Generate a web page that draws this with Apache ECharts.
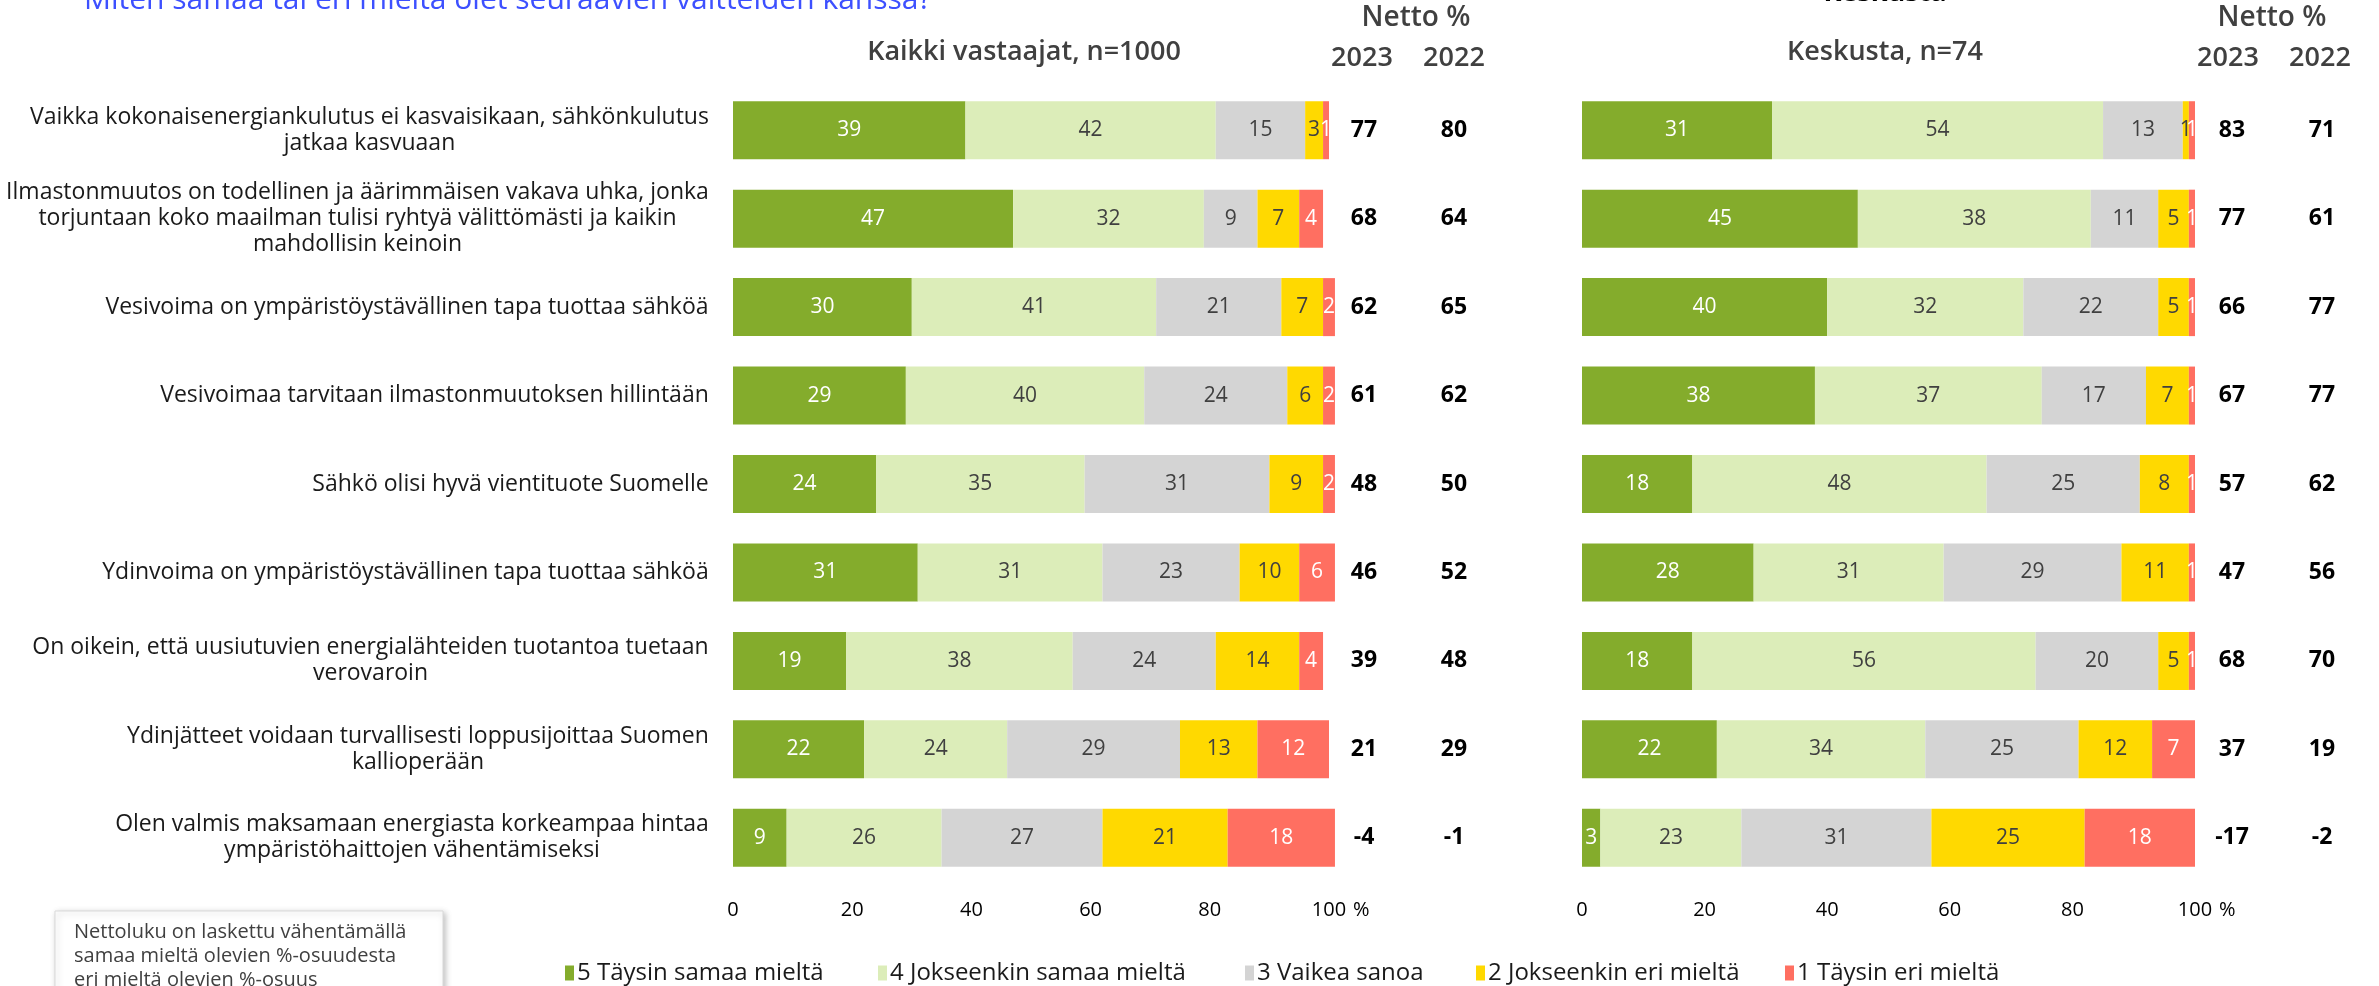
<!DOCTYPE html>
<html>
<head>
<meta charset="utf-8">
<script src="https://cdn.jsdelivr.net/npm/echarts@6/dist/echarts.min.js"></script>
<style>
  html, body { margin: 0; padding: 0; background: #fff; }
  #chart { width: 2379px; height: 986px; }
</style>
</head>
<body>
<div id="chart"></div>
<script>
// Statements (top to bottom)
const categories = [
  'Vaikka kokonaisenergiankulutus ei kasvaisikaan, sähkönkulutus\njatkaa kasvuaan',
  'Ilmastonmuutos on todellinen ja äärimmäisen vakava uhka, jonka\ntorjuntaan koko maailman tulisi ryhtyä välittömästi ja kaikin\nmahdollisin keinoin',
  'Vesivoima on ympäristöystävällinen tapa tuottaa sähköä',
  'Vesivoimaa tarvitaan ilmastonmuutoksen hillintään',
  'Sähkö olisi hyvä vientituote Suomelle',
  'Ydinvoima on ympäristöystävällinen tapa tuottaa sähköä',
  'On oikein, että uusiutuvien energialähteiden tuotantoa tuetaan\nverovaroin',
  'Ydinjätteet voidaan turvallisesti loppusijoittaa Suomen\nkallioperään',
  'Olen valmis maksamaan energiasta korkeampaa hintaa\nympäristöhaittojen vähentämiseksi'
];

// Answer scale
const answerNames = [
  '5 Täysin samaa mieltä',
  '4 Jokseenkin samaa mieltä',
  '3 Vaikea sanoa',
  '2 Jokseenkin eri mieltä',
  '1 Täysin eri mieltä'
];

// All respondents, n=1000 (%)
const allAgree5    = [39, 47, 30, 29, 24, 31, 19, 22, 9];
const allAgree4    = [42, 32, 41, 40, 35, 31, 38, 24, 26];
const allNeutral3  = [15, 9, 21, 24, 31, 23, 24, 29, 27];
const allDisagree2 = [3, 7, 7, 6, 9, 10, 14, 13, 21];
const allDisagree1 = [1, 4, 2, 2, 2, 6, 4, 12, 18];

// Keskusta supporters, n=74 (%)
const kesAgree5    = [31, 45, 40, 38, 18, 28, 18, 22, 3];
const kesAgree4    = [54, 38, 32, 37, 48, 31, 56, 34, 23];
const kesNeutral3  = [13, 11, 22, 17, 25, 29, 20, 25, 31];
const kesDisagree2 = [1, 5, 5, 7, 8, 11, 5, 12, 25];
const kesDisagree1 = [1, 1, 1, 1, 1, 1, 1, 7, 18];

// Net figures (agree minus disagree)
const allNet2023 = [77, 68, 62, 61, 48, 46, 39, 21, -4];
const allNet2022 = [80, 64, 65, 62, 50, 52, 48, 29, -1];
const kesNet2023 = [83, 77, 66, 67, 57, 47, 68, 37, -17];
const kesNet2022 = [71, 61, 77, 77, 62, 56, 70, 19, -2];

const xTicks = [0, 20, 40, 60, 80, 100];

const FONT = '"Open Sans", "Noto Sans", sans-serif';
const colors = ['#84ac2c', '#dcedb9', '#d4d4d4', '#ffd900', '#ff6f61'];
const labelColors = ['#ffffff', '#404040', '#404040', '#404040', '#ffffff'];

// Multi-line category labels: block right-aligned, lines centred within it
const measure = document.createElement('canvas').getContext('2d');
measure.font = '20px ' + FONT;
const widest = Math.max(...categories.flatMap(c => c.split('\n')).map(l => measure.measureText(l).width));
const catFontSize = Math.round(20 * 700 / widest * 2) / 2;
measure.font = catFontSize + 'px ' + FONT;
const catRich = {};
categories.forEach((c, i) => {
  const w = Math.max(...c.split('\n').map(l => measure.measureText(l).width));
  catRich['c' + i] = {
    width: Math.ceil(w) + 2, align: 'center',
    fontSize: catFontSize, lineHeight: 26, color: '#1a1a1a', fontFamily: FONT
  };
});

const chart = echarts.init(document.getElementById('chart'), null, { renderer: 'canvas' });

function panelSeries(idx, stackName, groups) {
  return groups.map((vals, k) => ({
    name: answerNames[k],
    type: 'bar',
    stack: stackName,
    xAxisIndex: idx,
    yAxisIndex: idx,
    barWidth: 58,
    clip: false,
    itemStyle: { color: colors[k] },
    label: {
      show: true,
      position: 'inside',
      fontFamily: FONT,
      fontSize: 21,
      color: labelColors[k]
    },
    emphasis: { disabled: true },
    data: vals
  }));
}

function netAxis(gridIdx, offset, values) {
  return {
    type: 'category',
    gridIndex: gridIdx,
    data: categories,
    inverse: true,
    position: 'right',
    offset: offset,
    axisLine: { show: false },
    axisTick: { show: false },
    axisLabel: {
      margin: 0,
      align: 'center',
      fontFamily: FONT,
      fontSize: 23,
      fontWeight: 'bold',
      color: '#000',
      formatter: v => String(values[categories.indexOf(v)])
    }
  };
}

function valueAxis(gridIdx) {
  return {
    type: 'value',
    gridIndex: gridIdx,
    min: 0, max: 100, interval: 20,
    splitLine: { show: false },
    axisLine: { show: false },
    axisTick: { show: false },
    axisLabel: {
      margin: 18, fontFamily: FONT, fontSize: 20, color: '#000',
      formatter: v => xTicks.includes(v) ? String(v) : ''
    },
    name: '%',
    nameLocation: 'end',
    nameGap: 24,
    nameTextStyle: {
      fontFamily: FONT, fontSize: 20, color: '#000',
      verticalAlign: 'top', padding: [18, 0, 0, 0]
    }
  };
}

const headerText = (x, y, text, size, weight, color) => ({
  type: 'text', x: x, y: y, silent: true,
  style: {
    text: text, align: 'center', verticalAlign: 'middle',
    font: weight + ' ' + size + 'px ' + FONT, fill: color
  }
});

const legendLefts = [565, 878, 1245, 1476, 1785];

const option = {
  backgroundColor: '#ffffff',
  animation: false,
  title: {
    text: 'Miten samaa tai eri mieltä olet seuraavien väitteiden kanssa?',
    left: 84, top: -15, padding: 0,
    textStyle: { fontFamily: FONT, fontSize: 30, fontWeight: 'normal', color: '#3d50ff' }
  },
  grid: [
    { left: 733, right: 1050, top: 86, bottom: 104 },
    { left: 1582, right: 184, top: 86, bottom: 104 }
  ],
  xAxis: [valueAxis(0), valueAxis(1)],
  yAxis: [
    {
      type: 'category', gridIndex: 0, data: categories, inverse: true,
      axisLine: { show: false }, axisTick: { show: false },
      axisLabel: {
        margin: 23,
        formatter: v => {
          const i = categories.indexOf(v);
          return v.split('\n').map(l => '{c' + i + '|' + l + '}').join('\n');
        },
        rich: catRich
      }
    },
    {
      type: 'category', gridIndex: 1, data: categories, inverse: true,
      axisLine: { show: false }, axisTick: { show: false },
      axisLabel: { show: false }
    },
    netAxis(0, 35, allNet2023),
    netAxis(0, 125, allNet2022),
    netAxis(1, 37, kesNet2023),
    netAxis(1, 127, kesNet2022)
  ],
  legend: answerNames.map((n, i) => ({
    data: [n],
    left: legendLefts[i],
    top: 961,
    padding: 0,
    icon: 'rect',
    itemWidth: 9,
    itemHeight: 15,
    itemGap: 0,
    selectedMode: false,
    textStyle: { fontFamily: FONT, fontSize: 24, color: '#1a1a1a', padding: [0, 0, 0, -2] }
  })),
  series: [
    ...panelSeries(0, 'all', [allAgree5, allAgree4, allNeutral3, allDisagree2, allDisagree1]),
    ...panelSeries(1, 'kes', [kesAgree5, kesAgree4, kesNeutral3, kesDisagree2, kesDisagree1])
  ],
  graphic: [
    headerText(1885, -7, 'Keskusta', 27, 'bold', '#000'),
    headerText(1024, 52, 'Kaikki vastaajat, n=1000', 27, '600', '#404040'),
    headerText(1885, 52, 'Keskusta, n=74', 27, '600', '#404040'),
    headerText(1416, 18, 'Netto %', 28, '600', '#404040'),
    headerText(1362, 58, '2023', 27, '600', '#404040'),
    headerText(1454, 58, '2022', 27, '600', '#404040'),
    headerText(2272, 18, 'Netto %', 28, '600', '#404040'),
    headerText(2228, 58, '2023', 27, '600', '#404040'),
    headerText(2320, 58, '2022', 27, '600', '#404040'),
    {
      type: 'rect', silent: true,
      shape: { x: 55, y: 911, width: 388, height: 95 },
      style: {
        fill: '#ffffff', stroke: '#d9d9d9', lineWidth: 1,
        shadowBlur: 6, shadowColor: 'rgba(0,0,0,0.25)', shadowOffsetX: 2, shadowOffsetY: 2
      }
    },
    {
      type: 'text', silent: true, x: 74, y: 920,
      style: {
        text: 'Nettoluku on laskettu vähentämällä\nsamaa mieltä olevien %-osuudesta\neri mieltä olevien %-osuus',
        font: '20px ' + FONT, lineHeight: 24, fill: '#404040',
        align: 'left', verticalAlign: 'top'
      }
    }
  ]
};

chart.setOption(option);
</script>
</body>
</html>
